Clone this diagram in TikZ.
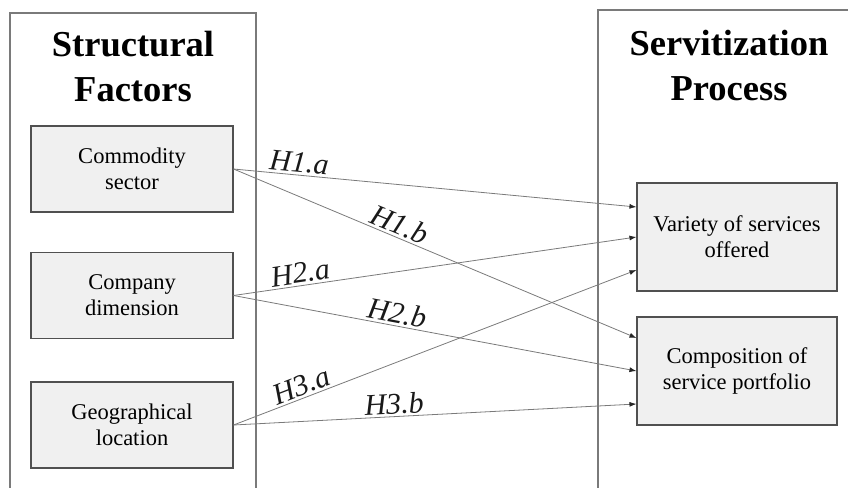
\documentclass[tikz,border=0pt]{standalone}
\usepackage{fontspec}
\setmainfont{Liberation Serif}
\usetikzlibrary{arrows.meta}
\definecolor{panelgray}{HTML}{7A7A7A}
\definecolor{boxline}{HTML}{505050}
\definecolor{boxfill}{HTML}{F0F0F0}
\definecolor{linkgray}{HTML}{7A7A7A}
\definecolor{tipcol}{HTML}{262626}
\tikzset{
  factor/.style={draw=boxline, line width=1.1pt, fill=boxfill, minimum width=202pt, minimum height=86pt, inner sep=0pt, align=center, font=\fontsize{22.5}{26}\selectfont},
  outcome/.style={factor, minimum width=200pt, minimum height=108pt},
  title/.style={align=center, font=\fontsize{36.5}{45}\selectfont\bfseries, inner sep=0pt},
  panel/.style={draw=panelgray, line width=1.1pt},
  link/.style={draw=linkgray, line width=0.8pt, -{Latex[length=7pt,width=5pt,color=tipcol]}},
  hlabel/.style={sloped, above, inner sep=2pt, font=\fontsize{30}{32}\selectfont\itshape, text=black!90}
}
\begin{document}
\begin{tikzpicture}[x=1pt,y=-1pt]
\useasboundingbox (0,0) rectangle (848,487);
% panels
\draw[panel] (10,490) -- (10,13) -- (256,13) -- (256,490);
\draw[panel] (598,490) -- (598,10) -- (850,10);
\node[title] (t1) at (133,67) {Structural\\Factors};
\node[title] (t2) at (729,66) {Servitization\\Process};
% boxes
\node[factor] (cs) at (132,169) {Commodity\\sector};
\node[factor] (cd) at (132,295.5) {Company\\dimension};
\node[factor] (gl) at (132,425) {Geographical\\location};
\node[outcome] (vs) at (737,237) {Variety of services\\offered};
\node[outcome] (sp) at (737,371) {Composition of\\service portfolio};
% anchors on target boxes
\coordinate (vs1) at ([yshift=30pt]vs.west);
\coordinate (vs2) at (vs.west);
\coordinate (vs3) at ([yshift=-33pt]vs.west);
\coordinate (sp1) at ([yshift=33pt]sp.west);
\coordinate (sp2) at (sp.west);
\coordinate (sp3) at ([yshift=-33pt]sp.west);
% links
\draw[link] (cs.east) -- node[hlabel, pos=0.16] {H1.a} (vs1);
\draw[link] (cs.east) -- node[hlabel, pos=0.40] {H1.b} (sp1);
\draw[link] (cd.east) -- node[hlabel, pos=0.17] {H2.a} (vs2);
\draw[link] (cd.east) -- node[hlabel, pos=0.40] {H2.b} (sp2);
\draw[link] (gl.east) -- node[hlabel, pos=0.18] {H3.a} (vs3);
\draw[link] (gl.east) -- node[hlabel, pos=0.40] {H3.b} (sp3);
\end{tikzpicture}
\end{document}
